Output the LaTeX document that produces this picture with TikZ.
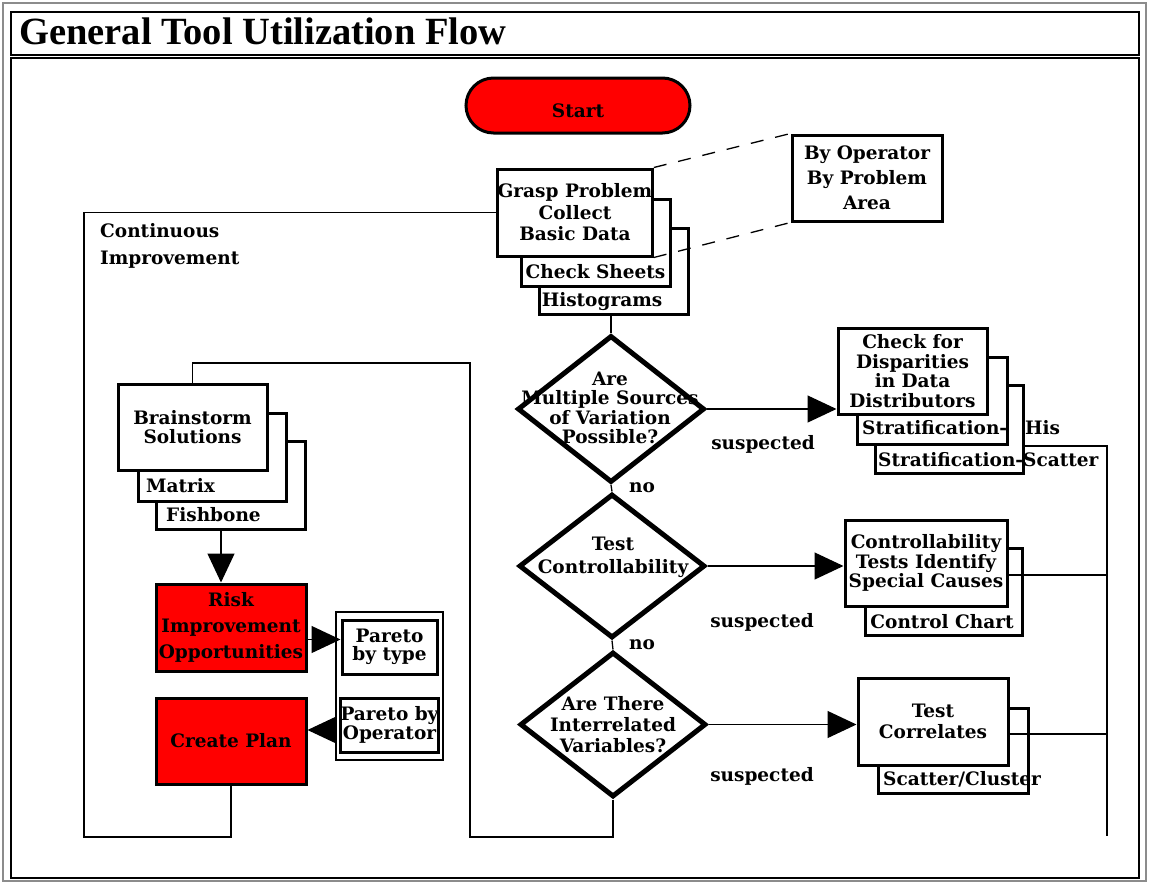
\documentclass[tikz,border=0pt]{standalone}
\usepackage{fontspec}
\setmainfont{DejaVu Serif}
\newfontfamily\headfont{Liberation Serif}
\usetikzlibrary{shapes.geometric,arrows.meta,calc}

\tikzset{
  every node/.style={font=\bfseries\fontsize{18.5}{19}\selectfont, inner sep=0pt},
  lsp/.style={font=\bfseries\fontsize{18.5}{#1}\selectfont},
  bx/.style={draw, line width=3pt, fill=white, align=center, inner sep=0pt},
  redbx/.style={bx, fill=red},
  dia/.style={draw, diamond, line width=5pt, fill=white, inner sep=0pt},
  dtxt/.style={align=center},
  link/.style={line width=1.3pt},
  arr/.style={link, -{Triangle[length=29pt,width=27pt]}},
  dashln/.style={line width=1.3pt, dash pattern=on 13pt off 12pt},
}

\begin{document}
\begin{tikzpicture}[x=1pt,y=-1pt]
\useasboundingbox (0,0) rectangle (1149,884);

% page frame and title cell
\draw[black!45, line width=1.2pt] (3,3) rectangle (1146,881);
\draw[line width=1.4pt] (11,12) rectangle (1139,55);
\draw[line width=1.4pt] (11,58) rectangle (1139,878);
\node[anchor=base west, font=\headfont\bfseries\fontsize{38.5}{40}\selectfont] (title) at (19,44) {General Tool Utilization Flow};

% start
\node[redbx, rounded corners=27.5pt, minimum width=224pt, minimum height=55pt, text height=23pt, text depth=0pt] (start) at (578,105.5) {Start};

% grasp problem stack
\node[bx, minimum width=149pt, minimum height=86pt] (g3) at (613.5,271) {};
\node[anchor=base] (g3lbl) at (602,306) {Histograms};
\node[bx, minimum width=149pt, minimum height=87pt] (g2) at (595.5,242.5) {};
\node[anchor=base] (g2lbl) at (595.5,278) {Check Sheets};
\node[bx, minimum width=150pt, minimum height=87pt, lsp=21.5] (g1) at (575,212.5) {Grasp Problem\\Collect\\Basic Data};

% side note
\node[bx, minimum width=150pt, minimum height=86pt, lsp=25] (byop) at (867,178) {By Operator\\By Problem\\Area};

\node[anchor=base west] (ctxt1) at (100,237) {Continuous};
\node[anchor=base west] (ctxt2) at (100,264) {Improvement};

% decisions
\node[dia, minimum width=187pt, minimum height=147pt] (d1) at (611,409) {};
\node[dtxt, lsp=19.5] (d1t) at (610,408) {Are\\Multiple Sources\\of Variation\\Possible?};
\node[dia, minimum width=186pt, minimum height=144pt] (d2) at (612,566) {};
\node[dtxt, lsp=23] (d2t) at (613,557) {Test\\Controllability};
\node[dia, minimum width=186pt, minimum height=145pt] (d3) at (613,724.5) {};
\node[dtxt, lsp=21] (d3t) at (613,725) {Are There\\Interrelated\\Variables?};

\node (no1) at (642,488) {no};
\node (no2) at (642,645) {no};
\node (sus1) at (763,444) {suspected};
\node (sus2) at (762,622) {suspected};
\node (sus3) at (762,776) {suspected};

% disparities stack
\node[bx, minimum width=148pt, minimum height=88pt] (s3) at (949,429) {};
\node[anchor=base west] (s3lbl) at (878,466) {Stratification-Scatter};
\node[bx, minimum width=150pt, minimum height=87pt] (s2) at (932,400.5) {};
\node[anchor=base west] (s2lbl) at (862,434) {Stratification-};
\node[anchor=base west] (s2more) at (1025,434) {His};
\node[bx, minimum width=149pt, minimum height=86pt, lsp=19.5] (s1) at (912.5,371) {Check for\\Disparities\\in Data\\Distributors};

% controllability stack
\node[bx, minimum width=157pt, minimum height=87pt] (c2) at (943.5,591.5) {};
\node[anchor=base] (c2lbl) at (942,628) {Control Chart};
\node[bx, minimum width=162pt, minimum height=86pt, lsp=19.5] (c1) at (926,563) {Controllability\\Tests Identify\\Special Causes};

% correlates stack
\node[bx, minimum width=150pt, minimum height=85pt] (t2) at (953,750.5) {};
\node[anchor=base west] (t2lbl) at (883,785) {Scatter/Cluster};
\node[bx, minimum width=150pt, minimum height=87pt, lsp=21] (t1) at (933,721.5) {Test\\Correlates};

% brainstorm stack
\node[bx, minimum width=149pt, minimum height=88pt] (b3) at (230.5,485) {};
\node[anchor=base west] (b3lbl) at (166,521) {Fishbone};
\node[bx, minimum width=148pt, minimum height=88pt] (b2) at (212,457) {};
\node[anchor=base west] (b2lbl) at (146,492) {Matrix};
\node[bx, minimum width=149pt, minimum height=86pt, lsp=19.5] (b1) at (192.5,427) {Brainstorm\\Solutions};

% action boxes
\node[redbx, minimum width=150pt, minimum height=87pt, lsp=26] (risk) at (231,627.5) {Risk\\Improvement\\Opportunities};
\node[redbx, minimum width=150pt, minimum height=86pt] (plan) at (231,741) {Create Plan};

% pareto group
\node[draw, line width=2pt, fill=white, minimum width=107pt, minimum height=148pt] (par) at (389.5,686) {};
\node[bx, minimum width=95pt, minimum height=54pt, lsp=18] (pt) at (389.5,647) {Pareto\\by type};
\node[bx, minimum width=95pt, minimum height=54pt, lsp=18.5] (po) at (389.5,725) {Pareto by\\Operator};

% loop points
\coordinate (ci) at (84,837);
\coordinate (lp1) at (470,837);
\coordinate (lp2) at (470,363);
\coordinate (rtop) at (1107,446);
\coordinate (rend) at (1107,836);

% main flow
\draw[link] (g3.south -| d1.north) -- (d1.north);
\draw[link] (d1.south) -- (d2.north);
\draw[link] (d2.south) -- (d3.north);
\draw[arr] (d1.east) -- (d1.east -| s1.west);
\draw[arr] (d2.east) -- (d2.east -| c1.west);
\draw[arr] (d3.east) -- (d3.east -| t1.west);

% return lines on the right
\draw[link] (rtop -| s3.east) -- (rtop) -- (rend);
\draw[link] ([yshift=-12pt]c1.east) -- ([yshift=-12pt]c1.east -| rtop);
\draw[link] ([yshift=-12.5pt]t1.east) -- ([yshift=-12.5pt]t1.east -| rtop);

% improvement loops
\draw[link] (plan.south) |- (ci) |- (g1.west);
\draw[link] (d3.south) |- (lp1) -- (lp2) -| (b1.north);

% left column arrows
\draw[arr] ([xshift=-9.5pt]b3.south) -- ([xshift=-9.5pt]b3.south |- risk.north);
\draw[arr] ([yshift=-12pt]risk.east) -- ([yshift=-12pt]risk.east -| pt.west);
\draw[arr] ([yshift=11pt]plan.east -| par.west) -- ([yshift=11pt]plan.east);

% note leaders
\draw[dashln] (g1.north east) -- (byop.north west);
\draw[dashln] (g1.south east) -- (byop.south west);
\end{tikzpicture}
\end{document}
